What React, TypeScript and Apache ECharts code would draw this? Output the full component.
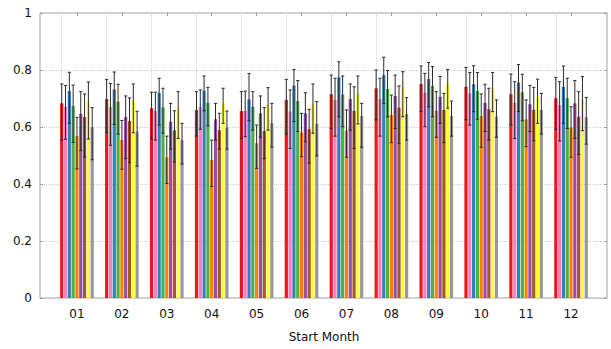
import React, { useEffect, useRef } from "react";
import * as echarts from "echarts";

const categories = ["01", "02", "03", "04", "05", "06", "07", "08", "09", "10", "11", "12"];
const yTicks = [0, 0.2, 0.4, 0.6, 0.8, 1];

const redMean = [0.683, 0.698, 0.666, 0.66, 0.656, 0.695, 0.715, 0.736, 0.751, 0.741, 0.715, 0.701];
const redLow = [0.554, 0.581, 0.558, 0.568, 0.56, 0.575, 0.595, 0.625, 0.654, 0.625, 0.607, 0.592];
const redHigh = [0.751, 0.767, 0.722, 0.724, 0.724, 0.767, 0.782, 0.8, 0.814, 0.809, 0.786, 0.774];

const pinkMean = [0.671, 0.67, 0.656, 0.67, 0.657, 0.654, 0.695, 0.698, 0.72, 0.718, 0.685, 0.677];
const pinkLow = [0.557, 0.536, 0.554, 0.592, 0.566, 0.525, 0.568, 0.568, 0.601, 0.607, 0.56, 0.551];
const pinkHigh = [0.746, 0.753, 0.722, 0.73, 0.726, 0.73, 0.771, 0.771, 0.788, 0.791, 0.759, 0.759];

const blueMean = [0.726, 0.732, 0.72, 0.727, 0.697, 0.745, 0.774, 0.782, 0.768, 0.75, 0.756, 0.741];
const blueLow = [0.613, 0.609, 0.607, 0.657, 0.622, 0.619, 0.636, 0.683, 0.671, 0.654, 0.654, 0.613];
const blueHigh = [0.792, 0.793, 0.771, 0.779, 0.788, 0.802, 0.829, 0.845, 0.826, 0.815, 0.819, 0.814];

const greenMean = [0.674, 0.689, 0.669, 0.685, 0.671, 0.691, 0.714, 0.733, 0.744, 0.726, 0.722, 0.701];
const greenLow = [0.546, 0.575, 0.578, 0.604, 0.589, 0.584, 0.601, 0.636, 0.636, 0.627, 0.622, 0.595];
const greenHigh = [0.747, 0.75, 0.736, 0.739, 0.724, 0.763, 0.779, 0.798, 0.812, 0.791, 0.785, 0.771];

const orangeMean = [0.568, 0.554, 0.494, 0.484, 0.543, 0.581, 0.587, 0.642, 0.657, 0.639, 0.627, 0.598];
const orangeLow = [0.453, 0.452, 0.402, 0.391, 0.455, 0.496, 0.494, 0.545, 0.564, 0.529, 0.531, 0.494];
const orangeHigh = [0.634, 0.623, 0.568, 0.554, 0.607, 0.648, 0.66, 0.712, 0.724, 0.716, 0.695, 0.671];

const purpleMean = [0.646, 0.635, 0.618, 0.627, 0.648, 0.648, 0.698, 0.709, 0.706, 0.685, 0.68, 0.683];
const purpleLow = [0.517, 0.489, 0.522, 0.554, 0.564, 0.548, 0.589, 0.595, 0.613, 0.584, 0.584, 0.56];
const purpleHigh = [0.724, 0.709, 0.683, 0.683, 0.709, 0.72, 0.751, 0.782, 0.777, 0.75, 0.746, 0.763];

const brownMean = [0.635, 0.621, 0.589, 0.589, 0.586, 0.592, 0.657, 0.668, 0.66, 0.663, 0.66, 0.636];
const brownLow = [0.494, 0.475, 0.477, 0.522, 0.489, 0.473, 0.525, 0.543, 0.545, 0.554, 0.552, 0.504];
const brownHigh = [0.716, 0.702, 0.657, 0.648, 0.668, 0.662, 0.741, 0.744, 0.718, 0.736, 0.739, 0.724];

const yellowMean = [0.687, 0.691, 0.666, 0.683, 0.677, 0.683, 0.718, 0.739, 0.751, 0.736, 0.706, 0.697];
const yellowLow = [0.558, 0.58, 0.56, 0.613, 0.589, 0.578, 0.611, 0.636, 0.666, 0.654, 0.613, 0.587];
const yellowHigh = [0.758, 0.751, 0.724, 0.736, 0.738, 0.751, 0.779, 0.794, 0.802, 0.791, 0.768, 0.777];

const grayMean = [0.599, 0.584, 0.554, 0.598, 0.613, 0.611, 0.639, 0.646, 0.639, 0.636, 0.66, 0.634];
const grayLow = [0.485, 0.463, 0.47, 0.522, 0.529, 0.499, 0.529, 0.554, 0.568, 0.564, 0.575, 0.54];
const grayHigh = [0.668, 0.655, 0.613, 0.656, 0.683, 0.689, 0.683, 0.703, 0.691, 0.695, 0.718, 0.704];

const seriesDefs = [
  { name: "S1", color: "#e41a1c", mean: redMean, low: redLow, high: redHigh },
  { name: "S2", color: "#f781bf", mean: pinkMean, low: pinkLow, high: pinkHigh },
  { name: "S3", color: "#377eb8", mean: blueMean, low: blueLow, high: blueHigh },
  { name: "S4", color: "#4daf4a", mean: greenMean, low: greenLow, high: greenHigh },
  { name: "S5", color: "#ff7f00", mean: orangeMean, low: orangeLow, high: orangeHigh },
  { name: "S6", color: "#984ea3", mean: purpleMean, low: purpleLow, high: purpleHigh },
  { name: "S7", color: "#a65628", mean: brownMean, low: brownLow, high: brownHigh },
  { name: "S8", color: "#ffff33", mean: yellowMean, low: yellowLow, high: yellowHigh },
  { name: "S9", color: "#999999", mean: grayMean, low: grayLow, high: grayHigh },
];

const FONT = "DejaVu Sans";
const BAR_W = 3.2;
const BAR_GAP = 0.19;
const STEP = BAR_W * (1 + BAR_GAP);
const N = seriesDefs.length;

export default function App() {
  const ref = useRef<HTMLDivElement>(null);
  useEffect(() => {
    if (!ref.current) return;
    const chart = echarts.init(ref.current, null, { renderer: "svg" });

    const series: any[] = [];
    seriesDefs.forEach((s, k) => {
      const bar: any = {
        name: s.name,
        type: "bar",
        xAxisIndex: 1,
        yAxisIndex: 2,
        barWidth: BAR_W,
        barGap: BAR_GAP * 100 + "%",
        data: s.mean,
        itemStyle: { color: s.color },
        z: 2,
      };
      if (k === 0) {
        bar.markLine = {
          silent: true,
          symbol: "none",
          z: 1,
          label: { show: false },
          lineStyle: { type: "dotted", color: "#cfcfcf", width: 1 },
          data: categories.map((c) => ({ xAxis: c })),
        };
      }
      series.push(bar);
    });
    seriesDefs.forEach((s, k) => {
      series.push({
        name: s.name + " err",
        type: "custom",
        xAxisIndex: 1,
        yAxisIndex: 2,
        z: 3,
        silent: true,
        encode: { x: 0, y: [1, 2] },
        data: categories.map((_, i) => [i, s.low[i], s.high[i]]),
        renderItem: (params: any, api: any) => {
          const c = api.value(0);
          const lo = api.coord([c, api.value(1)]);
          const hi = api.coord([c, api.value(2)]);
          const x = lo[0] + (k - (N - 1) / 2) * STEP;
          const style = { stroke: "#2a2a2a", lineWidth: 1 };
          return {
            type: "group",
            children: [
              { type: "line", shape: { x1: x, y1: lo[1], x2: x, y2: hi[1] }, style },
              { type: "line", shape: { x1: x - 1.6, y1: lo[1], x2: x + 1.6, y2: lo[1] }, style },
              { type: "line", shape: { x1: x - 1.6, y1: hi[1], x2: x + 1.6, y2: hi[1] }, style },
            ],
          };
        },
      });
    });

    chart.setOption({
      animation: false,
      backgroundColor: "#ffffff",
      grid: [
        { left: 40, right: 4, top: 13, bottom: 51, show: true, borderColor: "#a0a0a0", borderWidth: 1 },
        { left: 54.5, right: 17.5, top: 13, bottom: 51 },
      ],
      xAxis: [
        { gridIndex: 0, type: "value", min: 0, max: 1, show: false },
        {
          gridIndex: 1,
          type: "category",
          data: categories,
          position: "bottom",
          axisLine: { show: false },
          axisTick: { show: false },
          splitLine: { show: false },
          axisLabel: { fontSize: 12, color: "#111", margin: 10, fontFamily: FONT },
          name: "Start Month",
          nameLocation: "middle",
          nameGap: 33,
          nameTextStyle: { fontSize: 12, color: "#111", fontFamily: FONT },
        },
        {
          gridIndex: 1,
          type: "category",
          data: categories,
          position: "top",
          axisLine: { show: false },
          axisTick: { show: true, inside: true, alignWithLabel: true, length: 3, lineStyle: { color: "#999" } },
          axisLabel: { show: false },
          splitLine: { show: false },
        },
      ],
      yAxis: [
        {
          gridIndex: 0,
          type: "value",
          min: yTicks[0],
          max: yTicks[yTicks.length - 1],
          interval: 0.2,
          axisLine: { show: false },
          axisTick: { show: true, inside: true, length: 3, lineStyle: { color: "#999" } },
          axisLabel: { fontSize: 12, color: "#111", margin: 8, fontFamily: FONT },
          splitLine: { show: true, lineStyle: { type: "dotted", color: "#cfcfcf" } },
        },
        {
          gridIndex: 0,
          type: "value",
          position: "right",
          min: yTicks[0],
          max: yTicks[yTicks.length - 1],
          interval: 0.2,
          axisLine: { show: false },
          axisTick: { show: true, inside: true, length: 3, lineStyle: { color: "#999" } },
          axisLabel: { show: false },
          splitLine: { show: false },
        },
        { gridIndex: 1, type: "value", min: 0, max: 1, show: false },
      ],
      series,
    });
    return () => chart.dispose();
  }, []);
  return <div ref={ref} style={{ width: 611, height: 349, position: "absolute", left: 0, top: 0 }} />;
}
